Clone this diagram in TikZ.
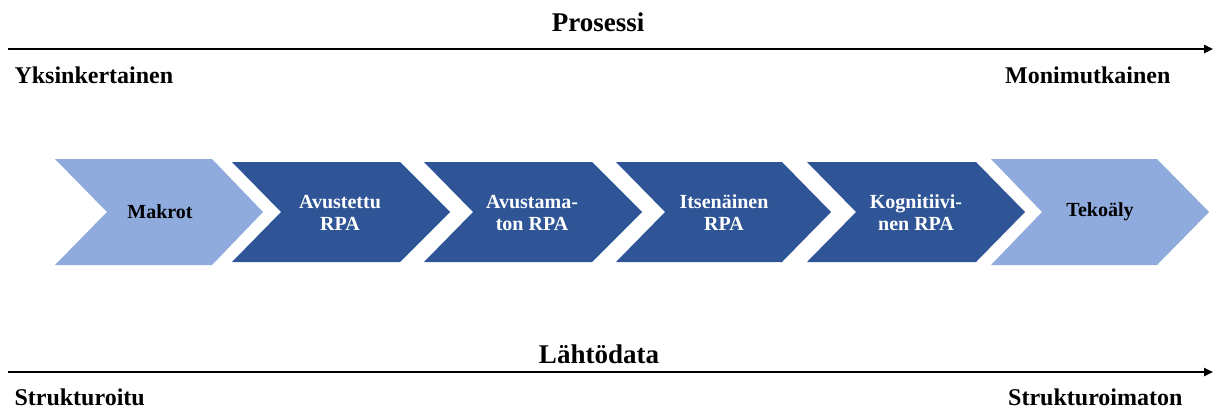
\documentclass[tikz,border=0pt]{standalone}
\usepackage{fontspec}
\setmainfont{Liberation Serif}
\usetikzlibrary{arrows.meta}
\definecolor{lightblue}{HTML}{8FAADC}
\definecolor{darkblue}{HTML}{2F5597}

% chevron: #1 style, #2 left x, #3 notch x, #4 flat end x, #5 tip x, #6 top y, #7 bottom y, #8 middle y
\newcommand{\drawchev}[8]{%
  \fill[#1] (#2,#6) -- (#4,#6) -- (#5,#8) -- (#4,#7) -- (#2,#7) -- (#3,#8) -- cycle;}

\begin{document}
\begin{tikzpicture}[x=1pt,y=-1pt,
  axis/.style={line width=2.8pt,-{Triangle[length=9pt,width=8pt]}},
  title/.style={font=\bfseries\fontsize{27}{32}\selectfont, anchor=base},
  endlabel/.style={font=\bfseries\fontsize{24}{29}\selectfont},
  lightchev/.style={fill=lightblue},
  darkchev/.style={fill=darkblue},
  darktext/.style={font=\bfseries\fontsize{20}{22}\selectfont, align=center, text=white, inner sep=0pt},
  lighttext/.style={font=\bfseries\fontsize{20}{22}\selectfont, align=center, text=black, inner sep=0pt},
]
\useasboundingbox (0,0) rectangle (1214,410);

% process axis
\coordinate (p0) at (8,49);
\coordinate (p1) at (1213,49);
\draw[axis] (p0) -- (p1);
\node[title] (proc) at (598,31) {Prosessi};
\node[endlabel, anchor=base west] (simple) at (11,83) {Yksinkertainen};
\node[endlabel, anchor=base east] (complex) at (1174,83) {Monimutkainen};

% chevron row
\drawchev{lightchev}{55}{107}{212}{263}{159}{265}{212}
\drawchev{darkchev}{232}{281}{400}{450}{162}{262}{212}
\drawchev{darkchev}{424}{473}{592}{642}{162}{262}{212}
\drawchev{darkchev}{616}{665}{782}{831}{162}{262}{212}
\drawchev{darkchev}{807}{856}{976}{1025}{162}{262}{212}
\drawchev{lightchev}{991}{1042}{1157}{1209}{159}{265}{212}

\node[lighttext] (makrot) at (160,212) {Makrot};
\node[darktext] (avust) at (340,213) {Avustettu\\RPA};
\node[darktext] (avustam) at (532,213) {Avustama-\\ton RPA};
\node[darktext] (itsen) at (724,213) {Itsenäinen\\RPA};
\node[darktext] (kogn) at (916,213) {Kognitiivi-\\nen RPA};
\node[lighttext] (teko) at (1100,212) {Tekoäly};

% source data axis
\coordinate (d0) at (8,372);
\coordinate (d1) at (1213,372);
\draw[axis] (d0) -- (d1);
\node[title] (data) at (599,363) {Lähtödata};
\node[endlabel, anchor=base west] (struct) at (11,405) {Strukturoitu};
\node[endlabel, anchor=base east] (unstruct) at (1186,405) {Strukturoimaton};
\end{tikzpicture}
\end{document}
